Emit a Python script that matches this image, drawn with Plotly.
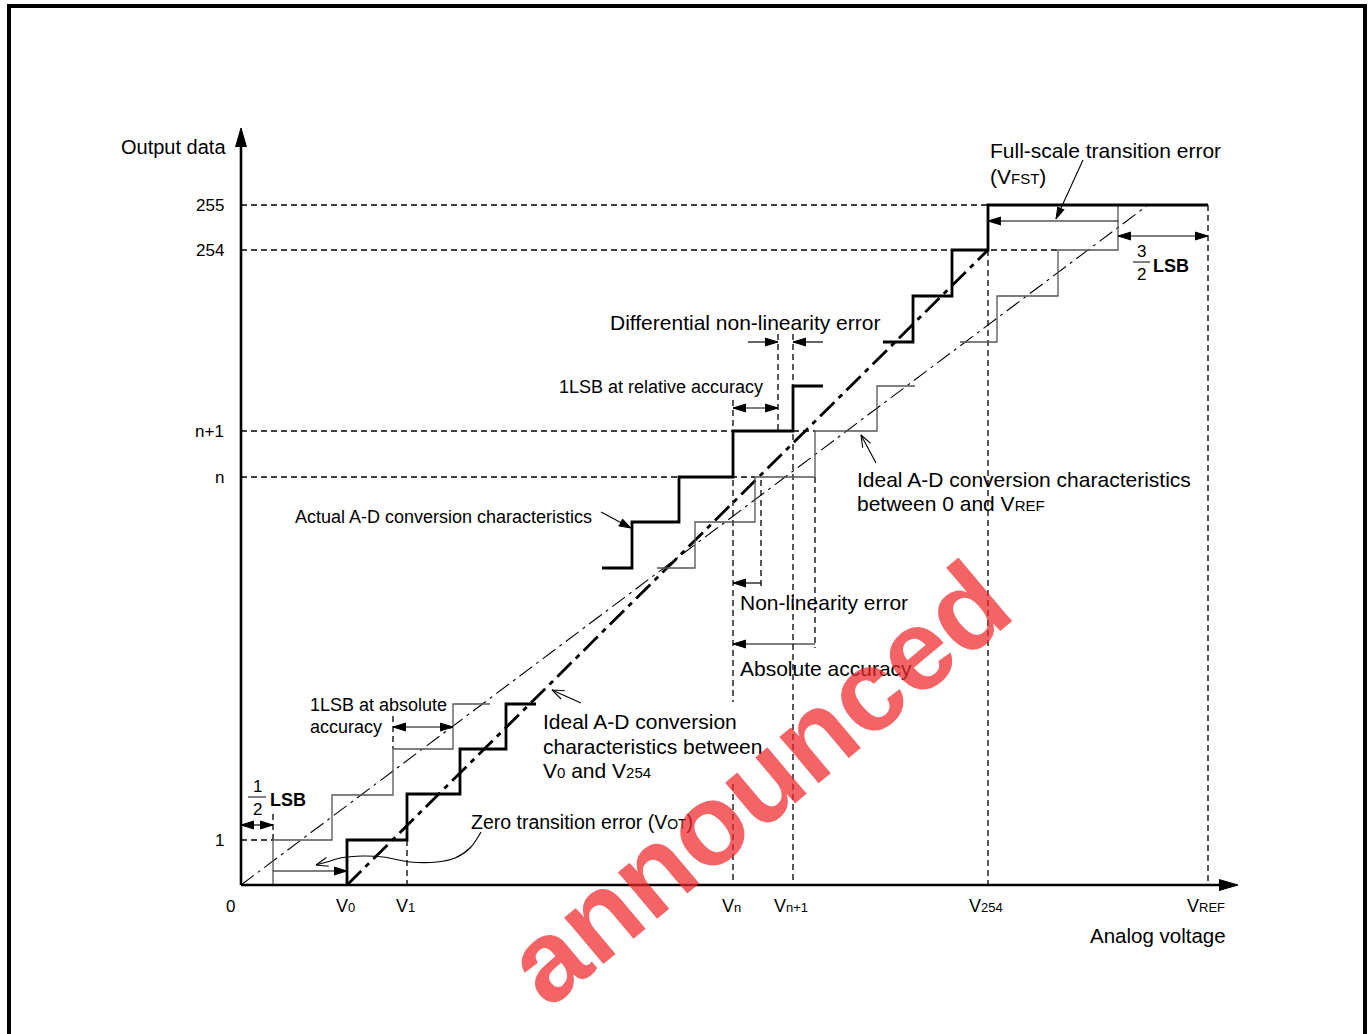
import math
import plotly.graph_objects as go

W, H = 1372, 1034
FONT = "Liberation Sans, Arial, Helvetica, sans-serif"


def sub(s, size):
    return "<span style='font-size:%spx'>%s</span>" % (size, s)


# ---------------- data (diagram coordinates, pixel-like units, y downward) ----------------
y_tick_labels = ["255", "254", "n+1", "n", "1"]
y_tick_levels = [205, 250, 431, 477, 840]
x_tick_names = ["0", "1", "n", "n+1", "254", "REF"]
x_tick_pos = [347, 407, 733, 793, 988, 1208]

origin_x, origin_y = 241, 885
y_axis_top = 128
x_axis_end = 1238

# actual A-D conversion characteristics (thick staircase pieces)
actual_low_x = [347, 347, 407, 407, 460, 460, 506, 506, 536]
actual_low_y = [885, 840, 840, 794, 794, 749, 749, 704, 704]
actual_mid_x = [602, 632, 632, 679, 679, 733, 733, 793, 793, 823]
actual_mid_y = [568, 568, 522, 522, 477, 477, 431, 431, 386, 386]
actual_up_x = [883, 913, 913, 952, 952, 988, 988, 1208]
actual_up_y = [342, 342, 296, 296, 250, 250, 205, 205]

# ideal A-D conversion characteristics between 0 and VREF (thin staircase pieces)
ideal_low_x = [273, 273, 332, 332, 393, 393, 453, 453, 490]
ideal_low_y = [885, 840, 840, 795, 795, 749, 749, 704, 704]
ideal_mid_x = [657, 695, 695, 755, 755, 815, 815, 877, 877, 915]
ideal_mid_y = [568, 568, 522, 522, 477, 477, 431, 431, 386, 386]
ideal_up_x = [960, 997, 997, 1058, 1058, 1118, 1118]
ideal_up_y = [342, 342, 296, 296, 250, 250, 205]

# straight ideal lines
line_full_x = [241, 1148]   # 0 .. VREF
line_full_y = [885, 205]
line_v0_x = [347, 988]      # V0 .. V254
line_v0_y = [885, 250]

# dashed guide segments (x0, y0, x1, y1)
guides = [
    (241, 205, 988, 205), (241, 250, 1058, 250), (241, 431, 733, 431), (793, 431, 815, 431),
    (241, 477, 755, 477), (241, 840, 273, 840),
    (273, 814, 273, 840), (393, 716, 393, 749), (407, 840, 407, 885),
    (733, 400, 733, 702), (733, 784, 733, 885), (761, 480, 761, 588), (778, 334, 778, 431),
    (793, 334, 793, 885), (815, 477, 815, 648), (988, 250, 988, 885), (1208, 205, 1208, 885),
]

# dimension arrows: (tail_x, tail_y, tip_x, tip_y, double_headed)
dim_arrows = [
    (273, 825, 241, 825, True),      # 1/2 LSB
    (273, 871, 347, 871, False),     # zero transition
    (393, 727, 453, 727, True),      # 1LSB absolute
    (733, 408, 778, 408, True),      # 1LSB relative
    (748, 342, 778, 342, False),     # differential (left)
    (823, 342, 793, 342, False),     # differential (right)
    (761, 583, 733, 583, False),     # non-linearity
    (815, 644, 733, 644, False),     # absolute accuracy
    (1118, 221, 988, 221, False),    # full-scale transition
    (1118, 236, 1208, 236, True),    # 3/2 LSB
]

# call-out leader lines, head at last point
callout_fullscale = ([1083, 1056], [160, 219])
callout_ideal_full = ([876, 861], [463, 435])
callout_ideal_v0 = ([581, 552], [703, 690])
callout_actual = ([601, 631], [512, 528])
callout_zero = ([481, 470, 455, 437, 410, 383, 363, 340, 327, 316],
                [832, 848, 858, 862, 862, 857, 856, 858, 862, 865])


def head(tipx, tipy, tailx, taily, L, Wd):
    dx, dy = tipx - tailx, tipy - taily
    d = math.hypot(dx, dy)
    ux, uy = dx / d, dy / d
    bx, by = tipx - ux * L, tipy - uy * L
    px, py = -uy, ux
    return ([bx + px * Wd / 2, tipx, bx - px * Wd / 2, None],
            [by + py * Wd / 2, tipy, by - py * Wd / 2, None])


fig = go.Figure()


def add_line(x, y, width, color="black", dash=None, shape="linear"):
    fig.add_trace(go.Scatter(x=x, y=y, mode="lines", hoverinfo="skip", showlegend=False,
                             line=dict(color=color, width=width, dash=dash, shape=shape)))


# dashed guides
gx, gy = [], []
for x0, y0, x1, y1 in guides:
    gx += [x0, x1, None]
    gy += [y0, y1, None]
add_line(gx, gy, 1.3, dash="6px,4px")

# ideal straight lines
add_line(line_full_x, line_full_y, 1.1, dash="16px,5px,3px,5px")
add_line(line_v0_x, line_v0_y, 2.8, dash="20px,6px,5px,6px")

# thin ideal staircase
for xs, ys in [(ideal_low_x, ideal_low_y), (ideal_mid_x, ideal_mid_y), (ideal_up_x, ideal_up_y)]:
    add_line(xs, ys, 1.3, color="#555555")

# thick actual staircase
for xs, ys in [(actual_low_x, actual_low_y), (actual_mid_x, actual_mid_y), (actual_up_x, actual_up_y)]:
    add_line(xs, ys, 2.8)

# axes
add_line([origin_x, origin_x, None, origin_x, x_axis_end - 10],
         [origin_y, y_axis_top + 10, None, origin_y, origin_y], 2.6)

# dimension arrow shafts
sx, sy = [], []
for tx, ty, hx, hy, dbl in dim_arrows:
    sx += [tx, hx, None]
    sy += [ty, hy, None]
add_line(sx, sy, 1.2)

# callout lines
for xs, ys in [callout_fullscale, callout_ideal_full, callout_ideal_v0, callout_actual]:
    add_line(xs, ys, 1.1)
add_line(callout_zero[0], callout_zero[1], 1.1, shape="spline")

# filled heads
hx_all, hy_all = [], []
for tx, ty, hx, hy, dbl in dim_arrows:
    a, b = head(hx, hy, tx, ty, 13, 8)
    hx_all += a
    hy_all += b
    if dbl:
        a, b = head(tx, ty, hx, hy, 13, 8)
        hx_all += a
        hy_all += b
a, b = head(origin_x, y_axis_top, origin_x, origin_y, 19, 11)
hx_all += a; hy_all += b
a, b = head(x_axis_end, origin_y, origin_x, origin_y, 19, 11)
hx_all += a; hy_all += b
a, b = head(callout_actual[0][-1], callout_actual[1][-1], callout_actual[0][0], callout_actual[1][0], 12, 8)
hx_all += a; hy_all += b
a, b = head(callout_fullscale[0][-1], callout_fullscale[1][-1], callout_fullscale[0][0], callout_fullscale[1][0], 12, 7)
hx_all += a; hy_all += b
fig.add_trace(go.Scatter(x=hx_all, y=hy_all, mode="lines", fill="toself", fillcolor="black",
                         line=dict(color="black", width=1), hoverinfo="skip", showlegend=False))

# open heads
ox, oy = [], []
for xs, ys in [callout_ideal_full, callout_ideal_v0, callout_zero]:
    a, b = head(xs[-1], ys[-1], xs[-2], ys[-2], 12, 9)
    ox += a; oy += b
add_line(ox, oy, 1.1)

# fraction bars
add_line([248, 266, None, 1133, 1150], [797, 797, None, 262, 262], 1.0)

# ---------------- text ----------------
ann = []


def txt(x, y, s, size=21, xanchor="left", bold=False):
    ann.append(dict(x=x, y=y, xref="x", yref="y", text=("<b>%s</b>" % s) if bold else s,
                    showarrow=False, xanchor=xanchor, yanchor="middle",
                    font=dict(family=FONT, size=size, color="black")))


txt(228, 147, "Output data", 20, "right")
for lab, lev in zip(y_tick_labels, y_tick_levels):
    txt(226, lev, lab, 17, "right")
txt(230, 906, "0", 17, "center")
for nm, pos in zip(x_tick_names, x_tick_pos):
    txt(pos - 2, 906, "V" + sub(nm, 13), 18, "center")
txt(1228, 935, "Analog voltage", 20.5, "right")

txt(988, 150, "Full-scale transition error", 21)
txt(988, 176, "(V" + sub("FST", 15) + ")", 21)
txt(608, 322, "Differential non-linearity error", 21)
txt(557, 387, "1LSB at relative accuracy", 18)
txt(855, 479, "Ideal A-D conversion characteristics", 21)
txt(855, 503, "between 0 and V" + sub("REF", 15), 21)
txt(293, 517, "Actual A-D conversion characteristics", 18)
txt(738, 602, "Non-linearity error", 21)
txt(738, 668, "Absolute accuracy", 21)
txt(308, 705, "1LSB at absolute", 18)
txt(308, 727, "accuracy", 18)
txt(541, 721, "Ideal A-D conversion", 21)
txt(541, 746, "characteristics between", 21)
txt(541, 770, "V" + sub("0", 15) + " and V" + sub("254", 15), 21)
txt(469, 822, "Zero transition error (V" + sub("OT", 14) + ")", 19.5)

txt(257, 786, "1", 17, "center")
txt(257, 809, "2", 17, "center")
txt(268, 800, "LSB", 18, bold=True)
txt(1141, 251, "3", 17, "center")
txt(1141, 274, "2", 17, "center")
txt(1151, 266, "LSB", 18, bold=True)

# watermark
ann.append(dict(x=757, y=783, xref="x", yref="y", text="<b>announced</b>", showarrow=False,
                textangle=-40, xanchor="center", yanchor="middle",
                font=dict(family=FONT, size=115, color="rgba(240,40,45,0.72)")))

fig.update_layout(
    width=W, height=H, autosize=False,
    margin=dict(l=0, r=0, t=0, b=0, pad=0),
    paper_bgcolor="white", plot_bgcolor="white",
    xaxis=dict(range=[0, W], visible=False, fixedrange=True),
    yaxis=dict(range=[H, 0], visible=False, fixedrange=True),
    annotations=ann,
    shapes=[dict(type="rect", xref="x", yref="y", x0=9, y0=6, x1=1365, y1=1045,
                 line=dict(color="black", width=4), fillcolor="rgba(0,0,0,0)")],
)

fig.write_html("out.html", config={"displayModeBar": False},
               post_script="document.body.style.margin='0px';document.body.style.overflow='hidden';")
